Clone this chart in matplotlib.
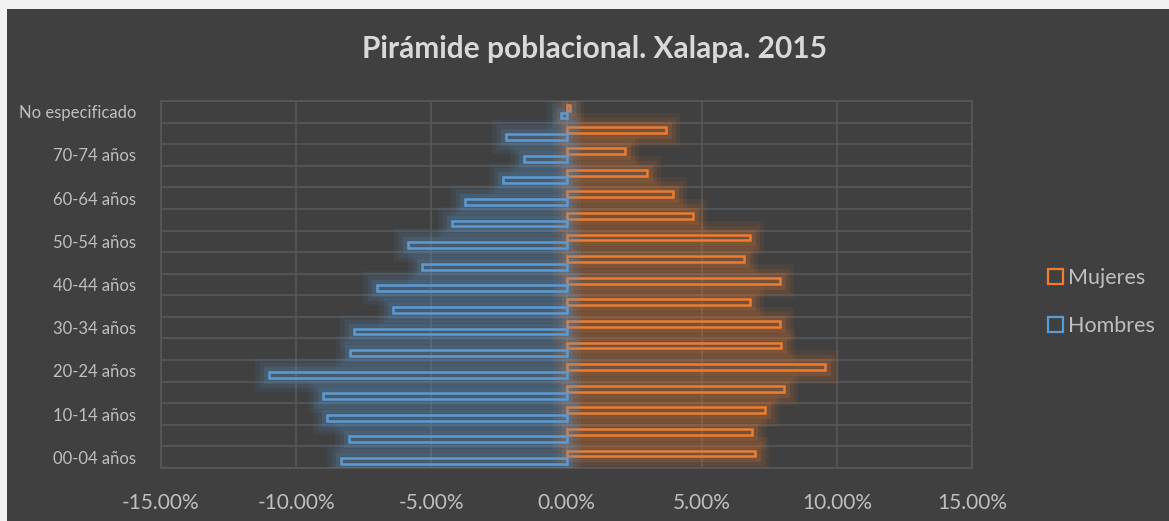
#!/usr/bin/env python3
"""
Pirámide poblacional de Xalapa, 2015: porcentaje de mujeres y hombres
por grupo de edad, barras huecas con brillo al estilo Excel oscuro.
Output: out.png
"""
import matplotlib.pyplot as plt
import matplotlib.patheffects as pe
from matplotlib.patches import Patch, Rectangle

GROUPS = ["00-04 años", "05-09 años", "10-14 años", "15-19 años", "20-24 años",
          "25-29 años", "30-34 años", "35-39 años", "40-44 años", "45-49 años",
          "50-54 años", "55-59 años", "60-64 años", "65-69 años", "70-74 años",
          "75 años y más", "No especificado"]
MUJERES = [6.97, 6.87, 7.34, 8.05, 9.58, 7.93, 7.90, 6.80, 7.88, 6.57,
           6.79, 4.68, 3.93, 2.98, 2.17, 3.68, 0.12]
HOMBRES = [-8.33, -8.06, -8.85, -9.02, -11.02, -8.02, -7.85, -6.41, -7.00, -5.33,
           -5.88, -4.25, -3.77, -2.36, -1.58, -2.25, -0.20]
XTICKS = [-15, -10, -5, 0, 5, 10, 15]


def glow(color):
    # soft halo, roughly like Excel's "glow" shape effect
    return [pe.Stroke(linewidth=20, foreground=color, alpha=0.08),
            pe.Stroke(linewidth=14, foreground=color, alpha=0.10),
            pe.Stroke(linewidth=8, foreground=color, alpha=0.16),
            pe.Normal()]


def main():
    BG = "#404040"
    GRID = "#585858"
    TEXT = "#BFBFBF"
    ORANGE = "#ED7D31"
    BLUE = "#5B9BD5"

    fig = plt.figure(figsize=(11.69, 5.21), dpi=100, facecolor="#F2F2F2")
    fig.patches.append(Rectangle((7 / 1169, 0), 1, 1 - 9 / 521,
                                 transform=fig.transFigure, facecolor=BG,
                                 edgecolor="none", zorder=-5))
    ax = fig.add_axes([161 / 1169, 1 - 468 / 521, 811 / 1169, 367 / 521])
    ax.set_facecolor(BG)

    y = range(len(GROUPS))
    h = 0.27
    off = 0.175
    ax.barh([i + off for i in y], MUJERES, height=h, facecolor="none",
            edgecolor=ORANGE, linewidth=1.8, zorder=3,
            path_effects=glow(ORANGE))
    ax.barh([i - off for i in y], HOMBRES, height=h, facecolor="none",
            edgecolor=BLUE, linewidth=1.8, zorder=3,
            path_effects=glow(BLUE))

    ax.set_xlim(-15, 15)
    ax.set_ylim(-0.5, len(GROUPS) - 0.5)
    ax.set_xticks(XTICKS)
    ax.set_xticklabels([f"{v:.2f}%" for v in XTICKS])
    ax.set_yticks(list(y)[::2])
    ax.set_yticklabels(GROUPS[::2])
    ax.set_yticks([i - 0.5 for i in range(len(GROUPS) + 1)], minor=True)
    ax.tick_params(axis="both", which="both", length=0, colors=TEXT)
    ax.tick_params(axis="x", labelsize=15, pad=18)
    ax.tick_params(axis="y", labelsize=12, pad=18)
    ax.grid(True, axis="x", which="major", color=GRID, linewidth=1.2, zorder=1)
    ax.grid(True, axis="y", which="minor", color=GRID, linewidth=1.2, zorder=1)
    for spine in ax.spines.values():
        spine.set_color(GRID)
        spine.set_linewidth(1.2)

    fig.text(595 / 1169, 1 - 49 / 521, "Pirámide poblacional. Xalapa. 2015",
             ha="center", va="center", fontsize=21.5, fontweight="bold",
             color="#D9D9D9")

    handles = [Patch(facecolor="none", edgecolor=ORANGE, linewidth=1.6, label="Mujeres"),
               Patch(facecolor="none", edgecolor=BLUE, linewidth=1.6, label="Hombres")]
    fig.legend(handles=handles, loc="center left",
               bbox_to_anchor=(1029 / 1169, 1 - 302 / 521), frameon=False,
               fontsize=15.5, labelcolor=TEXT, handlelength=0.7, handleheight=0.7,
               handletextpad=0.2, labelspacing=1.3)

    fig.savefig("out.png", dpi=100, facecolor=fig.get_facecolor())
    plt.close(fig)


if __name__ == "__main__":
    plt.rcParams["font.family"] = ["Lato", "DejaVu Sans"]
    main()
